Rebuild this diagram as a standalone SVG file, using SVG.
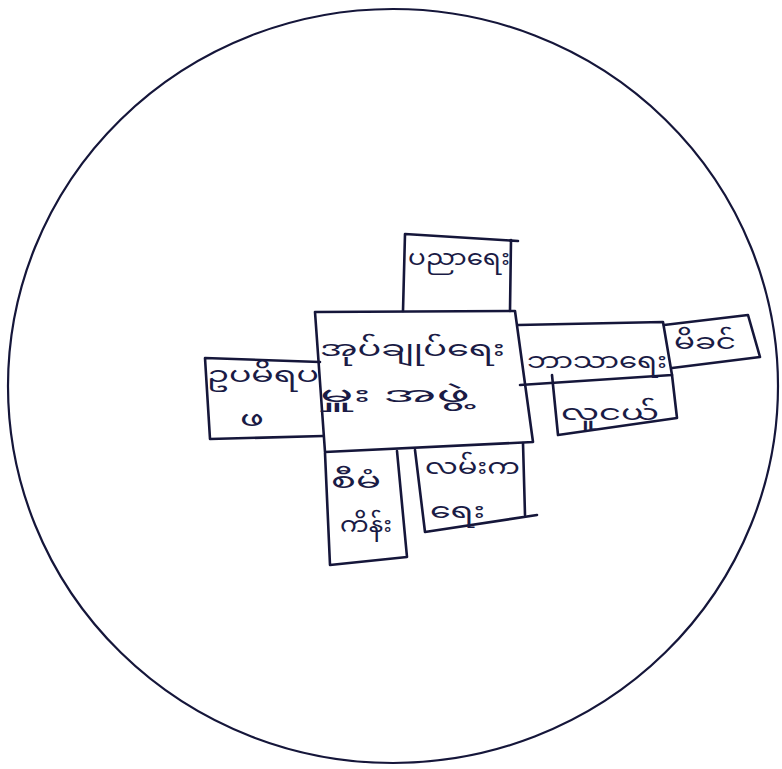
<svg xmlns="http://www.w3.org/2000/svg" width="782" height="769" viewBox="0 0 782 769">
<style>
.ln{fill:none;stroke:#15163a;stroke-width:2.6;stroke-linecap:round;stroke-linejoin:round}
.circ{fill:none;stroke:#15163a;stroke-width:2.2}
.t{font-family:"Noto Sans Myanmar","Padauk","Myanmar Text","Noto Sans",sans-serif;fill:#1a1b45;font-size:22px}
</style>
<rect width="782" height="769" fill="#ffffff"/>
<ellipse id="boundary" class="circ" cx="393" cy="386" rx="385" ry="377"/>
<g id="center">
<polygon class="ln" points="315,312 515,311 533,442 325,452"/>
<text class="t" x="320" y="356" font-size="26" textLength="185" lengthAdjust="spacingAndGlyphs">အုပ်ချုပ်ရေး</text>
<text class="t" x="320" y="402" font-size="26" textLength="150" lengthAdjust="spacingAndGlyphs">မှူး အဖွဲ့</text>
</g>
<g id="education">
<polyline class="ln" points="403,311 405,234 518,241"/>
<polyline class="ln" points="511,240 510,311"/>
<text class="t" x="408" y="265" textLength="102" lengthAdjust="spacingAndGlyphs">ပညာရေး</text>
</g>
<g id="left">
<polyline class="ln" points="320,362 205,358 210,439 323,436"/>
<text class="t" x="207" y="382" font-size="19" textLength="112" lengthAdjust="spacingAndGlyphs">ဥပမိရပ</text>
<text class="t" x="240" y="426" font-size="19" textLength="24" lengthAdjust="spacingAndGlyphs">ဖ</text>
</g>
<g id="religion">
<polyline class="ln" points="518,325 663,322 672,375 520,385"/>
<text class="t" x="527" y="368" textLength="140" lengthAdjust="spacingAndGlyphs">ဘာသာရေး</text>
</g>
<g id="mother">
<polyline class="ln" points="664,325 748,315 760,357 672,368"/>
<text class="t" x="674" y="349" textLength="62" lengthAdjust="spacingAndGlyphs">မိခင်</text>
</g>
<g id="youth">
<polyline class="ln" points="552,375 558,435 677,418 672,375"/>
<text class="t" x="561" y="420" textLength="98" lengthAdjust="spacingAndGlyphs">လူငယ်</text>
</g>
<g id="planning">
<polyline class="ln" points="325,453 330,565 407,557 397,451"/>
<text class="t" x="331" y="488" textLength="50" lengthAdjust="spacingAndGlyphs">စီမံ</text>
<text class="t" x="340" y="532" textLength="52" lengthAdjust="spacingAndGlyphs">ကိန်း</text>
</g>
<g id="social">
<polyline class="ln" points="415,450 425,532 537,515"/>
<polyline class="ln" points="523,443 525,515"/>
<text class="t" x="425" y="474" font-size="20" textLength="95" lengthAdjust="spacingAndGlyphs">လမ်းက</text>
<text class="t" x="430" y="518" font-size="20" textLength="55" lengthAdjust="spacingAndGlyphs">ရေး</text>
</g>
<g id="connectors"/>
</svg>
